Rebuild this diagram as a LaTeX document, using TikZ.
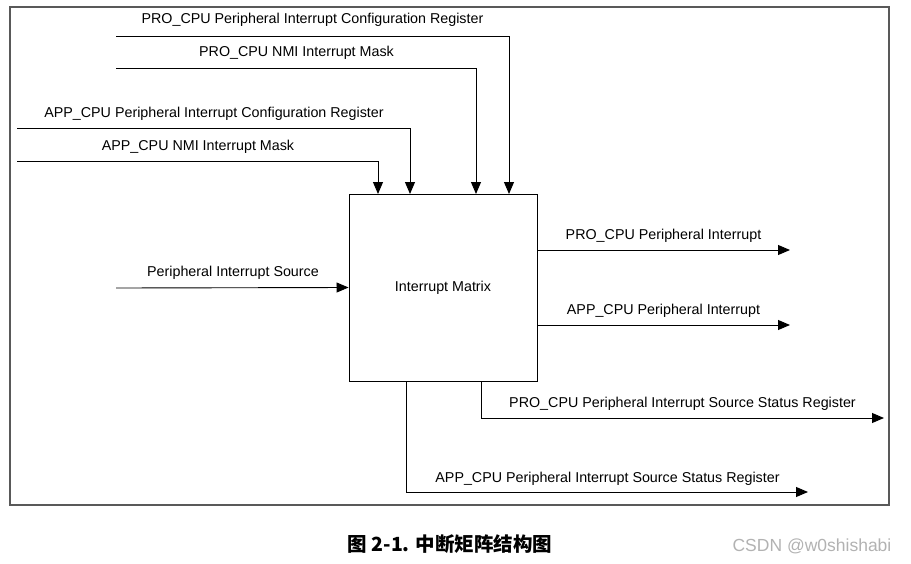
\documentclass[tikz,border=0pt]{standalone}
\usepackage{fontspec}
\setmainfont{Liberation Sans}
\newfontfamily\cjk{Noto Sans CJK SC}
\usetikzlibrary{arrows.meta}

\begin{document}
\begin{tikzpicture}[x=1pt,y=-1pt]
\tikzstyle{lbl}=[inner sep=0pt,font=\fontsize{14.3}{16}\selectfont]
\tikzstyle{sig}=[-{Triangle[length=12pt,width=10pt]},line width=0.9pt]
\tikzstyle{matrixbox}=[draw,line width=0.9pt,minimum width=188pt,minimum height=187pt,inner sep=0pt,font=\fontsize{14.3}{16}\selectfont]
\useasboundingbox (0,0) rectangle (911,563);
\draw[line width=1.2pt,black!65] (10,7) rectangle (889,505);
\node [matrixbox] (mat) at (443,287.5) {Interrupt Matrix};
% inputs from the top
\coordinate (s1) at (116,36);  \coordinate (d1) at (509,194);
\coordinate (s2) at (116,68);  \coordinate (d2) at (476,194);
\coordinate (s3) at (17,128);  \coordinate (d3) at (410,194);
\coordinate (s4) at (17,161);  \coordinate (d4) at (378,194);
\coordinate (s5) at (116,288);
\node [lbl] (l1) at (312.5,20) {PRO\_CPU Peripheral Interrupt Configuration Register};
\node [lbl] (l2) at (296.5,53) {PRO\_CPU NMI Interrupt Mask};
\node [lbl] (l3) at (214,114) {APP\_CPU Peripheral Interrupt Configuration Register};
\node [lbl] (l4) at (198,147) {APP\_CPU NMI Interrupt Mask};
\node [lbl] (l5) at (233,273) {Peripheral Interrupt Source};
\draw[sig] (s1) -| (d1);
\draw[sig] (s2) -| (d2);
\draw[sig] (s3) -| (d3);
\draw[sig] (s4) -| (d4);
\draw[sig] (s5) -- (mat.west);
% outputs
\coordinate (o1) at (537,250);  \coordinate (e1) at (790,250);
\coordinate (o2) at (537,325);  \coordinate (e2) at (790,325);
\coordinate (b1) at (481,381);  \coordinate (e3) at (884,418);
\coordinate (b2) at (406,381);  \coordinate (e4) at (808,492);
\node [lbl] (l6) at (663.5,236) {PRO\_CPU Peripheral Interrupt};
\node [lbl] (l7) at (663.5,311) {APP\_CPU Peripheral Interrupt};
\node [lbl] (l8) at (682.5,404) {PRO\_CPU Peripheral Interrupt Source Status Register};
\node [lbl] (l9) at (607.5,479) {APP\_CPU Peripheral Interrupt Source Status Register};
\draw[sig] (o1) -- (e1);
\draw[sig] (o2) -- (e2);
\draw[sig] (b1) |- (e3);
\draw[sig] (b2) |- (e4);
% caption
\node [inner sep=0pt,font=\cjk\bfseries\fontsize{19.5}{22}\selectfont] (cap) at (450,544) {图 2-1. 中断矩阵结构图};
\node [inner sep=0pt,text=black!30,font=\fontsize{17.5}{20}\selectfont] (wm) at (812,546) {CSDN @w0shishabi};
\end{tikzpicture}
\end{document}
